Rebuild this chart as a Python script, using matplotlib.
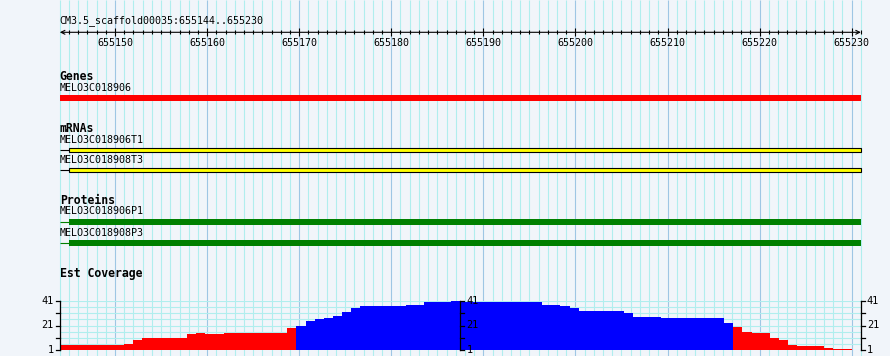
import matplotlib
matplotlib.use("Agg")
import matplotlib.pyplot as plt
import numpy as np

# region shown
ref_name = "CM3.5_scaffold00035"
region_start = 655144
region_end = 655230
ruler_ticks = [655150, 655160, 655170, 655180, 655190, 655200, 655210, 655220, 655230]

# features (start, end)
gene_names = ["MELO3C018906"]
gene_spans = [(655144, 655231)]
mrna_names = ["MELO3C018906T1", "MELO3C018908T3"]
mrna_exons = [(655145, 655231), (655145, 655231)]
protein_names = ["MELO3C018906P1", "MELO3C018908P3"]
protein_cds = [(655145, 655231), (655145, 655231)]

# est coverage, one value per bin
coverage = [5, 5, 5, 5, 5, 5, 5, 6, 9, 11, 11, 11, 11, 11, 14, 15, 14, 14,
            15, 15, 15, 15, 15, 15, 15, 19,
            21, 25, 26, 27, 29, 32, 35, 37, 37, 37, 37, 37, 38, 38, 40, 40, 40,
            41, 40, 40, 40, 40, 40, 40, 40, 40, 40, 38, 38, 37, 35, 33, 33, 33,
            33, 33, 31, 28, 28, 28, 27, 27, 27, 27, 27, 27, 27, 23,
            20, 16, 15, 15, 11, 9, 5, 4, 4, 4, 3, 2, 2]
cov_ticks = [1, 21, 41]
cov_minor = [11, 31]
cov_threshold = 20

W, H = 890, 356
px_per_bp = 9.208
x0_px = 59.8

bg = "#f1f5fa"
grid_minor = "#b0eeee"
grid_major = "#9ec6e4"
mono = "DejaVu Sans Mono"

fig = plt.figure(figsize=(W / 100, H / 100), dpi=100)
fig.patch.set_facecolor(bg)
ax = fig.add_axes([0, 0, 1, 1])
ax.set_facecolor(bg)
ax.set_xlim(region_start - x0_px / px_per_bp, region_start + (W - x0_px) / px_per_bp)
ax.set_ylim(H, 0)
ax.axis("off")

# grid
bases = np.arange(region_start, region_end + 2)
minor = [b for b in bases if b % 10 != 0]
major = [b for b in bases if b % 10 == 0]
ax.vlines(minor, 0, H, color=grid_minor, lw=0.8, zorder=0)
ax.vlines(major, 0, H, color=grid_major, lw=0.8, zorder=0)

# ruler
ax.text(region_start, 21, f"{ref_name}:{region_start}..{region_end}",
        family=mono, fontsize=7.2, va="center", ha="left")
ax.annotate("", xy=(region_start, 32.3), xytext=(region_end + 1, 32.3),
            arrowprops=dict(arrowstyle="<->", lw=0.8, color="black",
                            shrinkA=0, shrinkB=0, mutation_scale=7))
ax.vlines(minor[1:], 30.3, 34.3, color="black", lw=0.8)
ax.vlines(major, 27.5, 36, color="black", lw=0.8)
for t in ruler_ticks:
    ax.text(t, 43.5, str(t), family=mono, fontsize=7.2, ha="center", va="center")


def track_label(y, text):
    ax.text(region_start, y, text, family=mono, fontsize=8.3,
            fontweight="bold", ha="left", va="center")


def name_label(y, text):
    ax.text(region_start, y, text, family=mono, fontsize=7.2, ha="left", va="center")


# genes
track_label(76, "Genes")
for (s, e), name in zip(gene_spans, gene_names):
    name_label(88, name)
    ax.barh(98, e - s, left=s, height=6, color="#ff0000", lw=0)

# mRNAs
track_label(128, "mRNAs")
for i, ((s, e), name) in enumerate(zip(mrna_exons, mrna_names)):
    y = 149.5 + 20 * i
    name_label(140 + 20 * i, name)
    ax.hlines(y, region_start, s, color="black", lw=0.8)
    ax.barh(y, e - s, left=s, height=4, color="#ffff00", edgecolor="black", lw=0.8)

# proteins
track_label(200, "Proteins")
for i, ((s, e), name) in enumerate(zip(protein_cds, protein_names)):
    y = 222 + 21 * i
    name_label(211.5 + 21.5 * i, name)
    ax.hlines(y, region_start, s, color="#008000", lw=0.8)
    ax.barh(y, e - s, left=s, height=6, color="#008000", lw=0)

# est coverage
track_label(274, "Est Coverage")
cov_left = x0_px / W
cov_right = x0_px + (region_end + 1 - region_start) * px_per_bp
cov = fig.add_axes([cov_left, (H - 350) / H, (cov_right - x0_px) / W, 49 / H])
cov.patch.set_visible(False)
cov.set_xlim(region_start, region_end + 1)
cov.set_ylim(1, 41)
cov.axis("off")

for v in range(1, 42, 5):
    cov.axhline(v, color=grid_minor, lw=0.8, zorder=0)

vals = np.array(coverage)
edges = np.linspace(region_start, region_end, len(vals) + 1)
colors = ["#0000ff" if v > cov_threshold else "#ff0000" for v in vals]
cov.bar(edges[:-1], vals - 1, width=np.diff(edges), bottom=1, align="edge",
        color=colors, lw=0, zorder=2)

tick_len = 4 / px_per_bp
mid = (region_start + region_end + 1) / 2
axis_spots = [(region_start, -1), (mid, 1), (region_end + 1, 1)]
for xa, side in axis_spots:
    cov.plot([xa, xa], [1, 41], color="black", lw=0.9, clip_on=False, zorder=3)
    for t in cov_ticks + cov_minor:
        cov.plot([xa, xa + side * tick_len], [t, t], color="black", lw=0.9,
                 clip_on=False, zorder=3)
    for t in cov_ticks:
        cov.text(xa + side * 1.5 * tick_len, t, str(t), family=mono, fontsize=7.4,
                 ha="left" if side > 0 else "right", va="center", zorder=3)

fig.savefig("out.png", dpi=100, facecolor=bg)
